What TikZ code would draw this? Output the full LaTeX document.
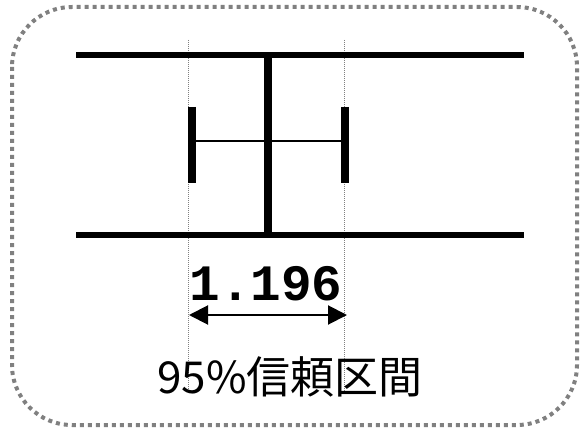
\documentclass[tikz,border=0pt]{standalone}
\usepackage{fontspec}
\newfontfamily\cjk{Noto Sans CJK JP}
\newfontfamily\monob{Liberation Mono}
\usetikzlibrary{arrows.meta}
\begin{document}
\begin{tikzpicture}[x=1pt,y=-1pt,
  frame/.style={draw=gray, line width=4pt, dash pattern=on 4pt off 4pt, rounded corners=60pt},
  axisline/.style={line width=6pt},
  barline/.style={line width=8pt},
  guide/.style={draw=gray, line width=0.8pt, dash pattern=on 1pt off 1pt},
  thinline/.style={line width=1.4pt},
  dimarrow/.style={line width=2pt, {Triangle[length=19pt,width=19pt]}-{Triangle[length=19pt,width=19pt]}}
]
\useasboundingbox (0,0) rectangle (580,430);
\draw[frame] (12,7) rectangle (577,425);
% guide lines
\coordinate (gl1) at (188,40);
\coordinate (gl2) at (188,392);
\coordinate (gr1) at (344,40);
\coordinate (gr2) at (344,392);
\draw[guide] (gl1) -- (gl2);
\draw[guide] (gr1) -- (gr2);
% horizontal lines
\coordinate (t1) at (76,55);
\coordinate (t2) at (524,55);
\coordinate (b1) at (76,235);
\coordinate (b2) at (524,235);
\draw[axisline] (t1) -- (t2);
\draw[axisline] (b1) -- (b2);
% central vertical
\coordinate (c1) at (268,55);
\coordinate (c2) at (268,235);
\draw[barline] (c1) -- (c2);
% CI bars
\coordinate (l1) at (192,107);
\coordinate (l2) at (192,183);
\coordinate (r1) at (345,107);
\coordinate (r2) at (345,183);
\draw[barline] (l1) -- (l2);
\draw[barline] (r1) -- (r2);
\coordinate (lm) at (192,141);
\coordinate (rm) at (345,141);
\draw[thinline] (lm) -- (rm);
% label and arrow
\node[font=\monob\bfseries\fontsize{51}{51}\selectfont, inner sep=0pt] (val) at (266,284) {1.196};
\coordinate (a1) at (189,315);
\coordinate (a2) at (347,315);
\draw[dimarrow] (a1) -- (a2);
\node[font=\cjk\fontsize{44}{44}\selectfont, inner sep=0pt] (ci) at (290,377) {95\%信頼区間};
\end{tikzpicture}
\end{document}
